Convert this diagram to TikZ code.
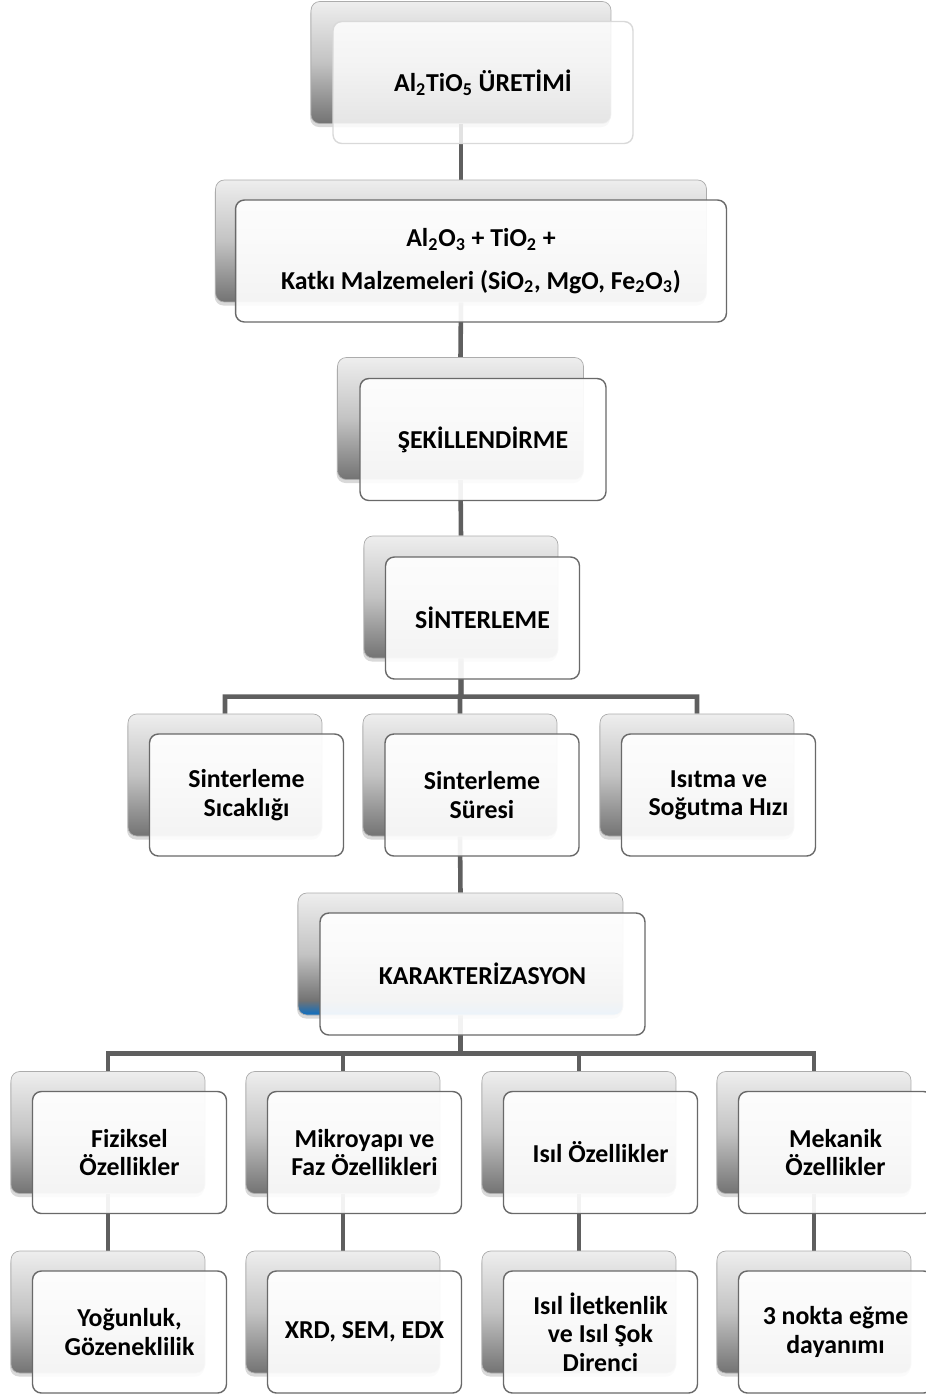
\documentclass[tikz,border=0pt]{standalone}
\usepackage{fontspec}
\setmainfont{Carlito}
\usetikzlibrary{calc,shadows,backgrounds}
\definecolor{line_gray}{RGB}{95,95,95}
\definecolor{edge_gray}{RGB}{105,105,105}
\definecolor{back_light}{RGB}{238,238,238}
\definecolor{back_mid}{RGB}{195,195,195}
\definecolor{back_dark}{RGB}{115,115,115}
\definecolor{kar_blue}{RGB}{10,110,195}
\pgfdeclareverticalshading{grayback}{100bp}{color(0bp)=(back_dark); color(25bp)=(back_dark); color(50bp)=(back_mid); color(75bp)=(back_light); color(100bp)=(back_light)}
\pgfdeclareverticalshading{karback}{100bp}{color(0bp)=(kar_blue); color(25bp)=(kar_blue); color(31bp)=(back_dark); color(50bp)=(back_mid); color(75bp)=(back_light); color(100bp)=(back_light)}

\begin{document}
\begin{tikzpicture}[x=0.02cm,y=-0.02cm,font=\fontsize{14.7}{16.1}\selectfont\bfseries]
    \tikzstyle{back}=[draw=gray!65, rounded corners=5pt, minimum height=2.44cm, shading=grayback, drop shadow={shadow xshift=-0.5pt,shadow yshift=-2pt,opacity=.3}]
    \tikzstyle{front}=[draw=edge_gray, line width=0.8pt, rounded corners=5pt, minimum height=2.44cm, fill=white, fill opacity=0.92, text opacity=1, align=center, inner sep=0pt]
    \tikzstyle{small}=[minimum width=3.88cm]
    \tikzstyle{conn}=[draw=line_gray, line width=2.6pt]

    \useasboundingbox (0,0) rectangle (926,1394);
    \clip (0,0) rectangle (926,1394);

    % main chain
    \node[back, minimum width=6cm] (uretim-b) at (461,62.5) {};
    \node[front, minimum width=6cm, draw=gray!30, fill opacity=0.82] (uretim) at (483,82.5) {Al\textsubscript{2}TiO\textsubscript{5} ÜRETİMİ};
    \node[back, minimum width=9.82cm] (karisim-b) at (461,241) {};
    \node[front, minimum width=9.82cm] (karisim) at (481,261) {Al\textsubscript{2}O\textsubscript{3} + TiO\textsubscript{2} +\\[8pt] Katkı Malzemeleri (SiO\textsubscript{2}, MgO, Fe\textsubscript{2}O\textsubscript{3})};
    \node[back, minimum width=4.92cm] (sekil-b) at (460.5,418.5) {};
    \node[front, minimum width=4.92cm] (sekil) at (483,439.5) {ŞEKİLLENDİRME};
    \node[back, small] (sinter-b) at (461,597) {};
    \node[front, small] (sinter) at (482.5,618) {SİNTERLEME};

    % sinterleme
    \node[back, small] (sicaklik-b) at (225,775) {};
    \node[front, small] (sicaklik) at (246.5,795) {Sinterleme\\Sıcaklığı};
    \node[back, small] (sure-b) at (460,775) {};
    \node[front, small] (sure) at (482,795) {Sinterleme\\Süresi};
    \node[back, small] (hiz-b) at (697,775) {};
    \node[front, small] (hiz) at (718.5,795) {Isıtma ve\\Soğutma Hızı};

    \node[back, minimum width=6.5cm, shading=karback] (karakter-b) at (460.5,954) {};
    \node[front, minimum width=6.5cm] (karakter) at (482.5,974) {KARAKTERİZASYON};

    % karakterizasyon
    \node[back, small] (fiziksel-b) at (108,1132.5) {};
    \node[front, small] (fiziksel) at (129.5,1152.5) {Fiziksel\\Özellikler};
    \node[back, small] (mikro-b) at (343,1132.5) {};
    \node[front, small] (mikro) at (364.5,1152.5) {Mikroyapı ve\\Faz Özellikleri};
    \node[back, small] (isil-b) at (579,1132.5) {};
    \node[front, small] (isil) at (600.5,1152.5) {Isıl Özellikler};
    \node[back, small] (mekanik-b) at (814,1132.5) {};
    \node[front, small] (mekanik) at (835.5,1152.5) {Mekanik\\Özellikler};

    \node[back, small] (yogunluk-b) at (108,1312) {};
    \node[front, small] (yogunluk) at (129.5,1332) {Yoğunluk,\\Gözeneklilik};
    \node[back, small] (xrd-b) at (343,1312) {};
    \node[front, small] (xrd) at (364.5,1332) {XRD, SEM, EDX};
    \node[back, small] (iletken-b) at (579,1312) {};
    \node[front, small] (iletken) at (600.5,1332) {Isıl İletkenlik\\ve Isıl Şok\\Direnci};
    \node[back, small] (egme-b) at (814,1312) {};
    \node[front, small] (egme) at (835.5,1332) {3 nokta eğme\\dayanımı};

    \begin{scope}[on background layer]
    \draw[conn] (uretim-b.south) -- (karisim-b.north);
    \draw[conn] (karisim-b.south) -- (sekil-b.north);
    \draw[conn] (sekil-b.south) -- (sinter-b.north);
    \coordinate (bus1) at ($(sinter-b.south |- sinter.south)!.5!(sinter-b.south |- sure-b.north)$);
    \foreach \c in {sicaklik,sure,hiz}
        \draw[conn] (sinter-b.south) -- (bus1) -| (\c-b.north);
    \draw[conn] (sure-b.south) -- (karakter-b.north);
    \coordinate (bus2) at ($(karakter-b.south |- karakter.south)!.5!(karakter-b.south |- mikro-b.north)$);
    \foreach \c in {fiziksel,mikro,isil,mekanik}
        \draw[conn] (karakter-b.south) -- (bus2) -| (\c-b.north);
    \foreach \c/\d in {fiziksel/yogunluk,mikro/xrd,isil/iletken,mekanik/egme}
        \draw[conn] (\c-b.south) -- (\d-b.north);
    \end{scope}
\end{tikzpicture}
\end{document}
